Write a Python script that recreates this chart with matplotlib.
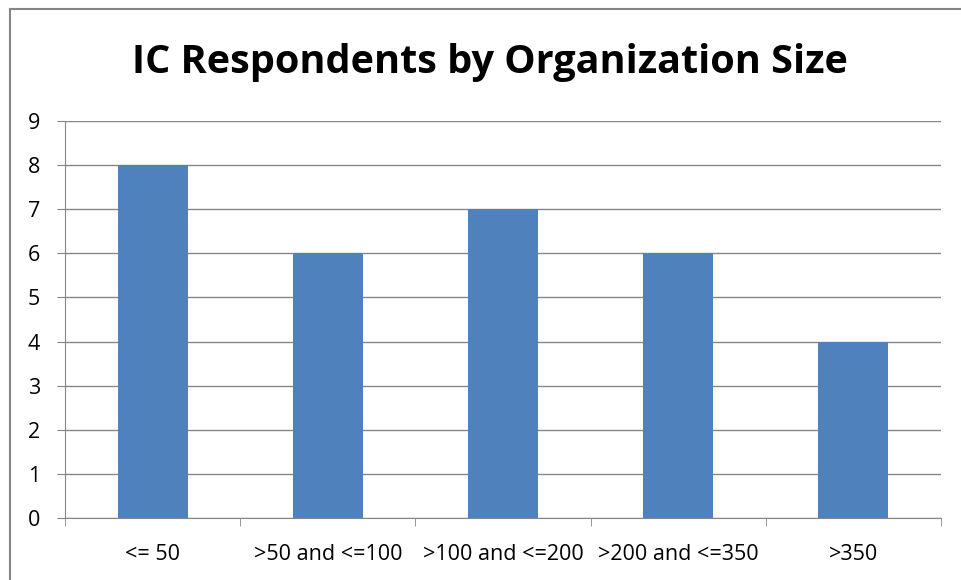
import matplotlib
matplotlib.use('Agg')
import matplotlib.pyplot as plt
from matplotlib.lines import Line2D
import numpy as np

# data
categories = ['<= 50', '>50 and <=100', '>100 and <=200', '>200 and <=350', '>350']
counts = [8, 6, 7, 6, 4]

plt.rcParams['font.family'] = ['Open Sans', 'DejaVu Sans']

W, H = 961, 580
fig = plt.figure(figsize=(W / 100, H / 100), dpi=100)
ax = fig.add_axes([65 / W, 1 - 518 / H, 876 / W, 397 / H])

x = np.arange(len(categories))
ax.bar(x, counts, width=0.4, color='#4F81BD', zorder=3)

ax.set_xlim(-0.5, len(categories) - 0.5)
ax.set_ylim(0, 9)
ax.set_yticks(range(0, 10))
ax.yaxis.grid(True, color='#868686', linewidth=1, zorder=0)

# category labels centred, tick marks on the boundaries
ax.set_xticks(x)
ax.set_xticklabels(categories, fontsize=15.5)
ax.tick_params(axis='x', length=0, pad=19)
ax.set_xticks(np.arange(-0.5, len(categories)), minor=True)
ax.tick_params(axis='x', which='minor', length=6, color='#868686', direction='out')
ax.tick_params(axis='y', labelsize=15.5, length=6, color='#868686', pad=12)

for side in ['top', 'right']:
    ax.spines[side].set_visible(False)
for side in ['left', 'bottom']:
    ax.spines[side].set_color('#868686')

fig.text(490 / W, 1 - 73 / H, 'IC Respondents by Organization Size',
         ha='center', va='baseline', fontsize=28.5, fontweight='bold')

# chart border (top and left edges visible in the crop)
fig.add_artist(Line2D([9.5 / W, 9.5 / W], [0, 1 - 8.5 / H], transform=fig.transFigure,
                      color='#868686', linewidth=1.5))
fig.add_artist(Line2D([9.5 / W, 1], [1 - 8.5 / H, 1 - 8.5 / H], transform=fig.transFigure,
                      color='#868686', linewidth=1.5))

fig.savefig('out.png', dpi=100)
